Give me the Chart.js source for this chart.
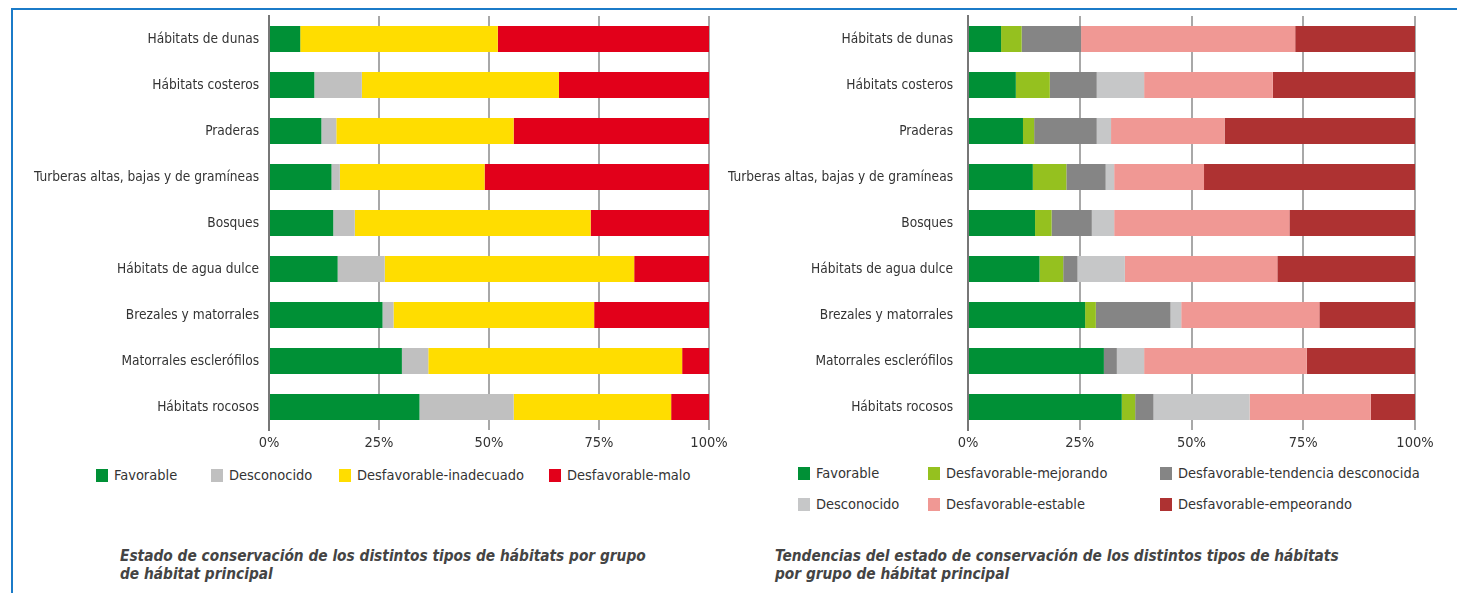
<!DOCTYPE html>
<html>
<head>
<meta charset="utf-8">
<script src="https://cdn.jsdelivr.net/npm/chart.js@4/dist/chart.umd.min.js"></script>
<style>
  html, body { margin:0; padding:0; background:#fff; }
  body { width:1457px; height:593px; position:relative; overflow:hidden;
         font-family:'DejaVu Sans Condensed','DejaVu Sans',sans-serif; color:#333; }
  #frame { position:absolute; left:11px; top:8px; width:1460px; height:600px;
           border-left:2px solid #1b7bc8; border-top:2px solid #1b7bc8; }
  .cv { position:absolute; }
  .leg { position:absolute; font-size:14.5px; white-space:nowrap; line-height:16px; }
  .leg i { display:inline-block; width:12px; height:13px; vertical-align:-2px; margin-right:6px; }
  .cap { position:absolute; font-style:italic; font-weight:bold; font-size:15.3px; line-height:18px; color:#444; white-space:nowrap; }
</style>
</head>
<body>
<div id="frame"></div>
<div class="cv" style="left:12px;top:11px;width:717px;height:449px;"><canvas id="c1"></canvas></div>
<div class="cv" style="left:715px;top:11px;width:720px;height:449px;"><canvas id="c2"></canvas></div>
<div id="legs"></div>
<div class="cap" style="left:120px;top:547px;">Estado de conservación de los distintos tipos de hábitats por grupo<br>de hábitat principal</div>
<div class="cap" style="left:775px;top:547px;">Tendencias del estado de conservación de los distintos tipos de hábitats<br>por grupo de hábitat principal</div>
<script>
const categories = ['Hábitats de dunas','Hábitats costeros','Praderas','Turberas altas, bajas y de gramíneas','Bosques','Hábitats de agua dulce','Brezales y matorrales','Matorrales esclerófilos','Hábitats rocosos'];
const tickLabels = ['0%','25%','50%','75%','100%'];

// Left chart: estado de conservación
const favorable   = [7.1,10.3,11.9,14.2,14.6,15.6,25.8,30.2,34.2];
const desconocido = [0,10.8,3.4,1.9,4.9,10.7,2.5,6.0,21.4];
const inadecuado  = [44.9,44.8,40.3,32.9,53.6,56.7,45.6,57.7,35.8];
const malo        = [48.0,34.1,44.4,51.0,26.9,17.0,26.1,6.1,8.6];

// Right chart: tendencias
const favorableT  = [7.4,10.7,12.3,14.5,15.0,16.0,26.2,30.4,34.4];
const mejorando   = [4.6,7.6,2.5,7.5,3.7,5.3,2.4,0,3.0];
const tendDesc    = [13.3,10.5,14.0,8.8,9.0,3.2,16.7,2.9,4.1];
const desconT     = [0,10.6,3.2,1.9,5.0,10.6,2.4,6.1,21.5];
const estable     = [47.9,28.8,25.4,20.1,39.2,34.1,30.9,36.4,27.1];
const empeorando  = [26.8,31.8,42.6,47.2,28.1,30.8,21.4,24.2,9.9];

const FONT = "'DejaVu Sans Condensed','DejaVu Sans',sans-serif";

function makeChart(id, datasets, yWidth, labelPad) {
  return new Chart(document.getElementById(id), {
    type: 'bar',
    data: { labels: categories, datasets: datasets.map(d => ({
      label: d[0], data: d[1], backgroundColor: d[2], borderWidth: 0,
      barPercentage: 26/46, categoryPercentage: 1
    })) },
    options: {
      indexAxis: 'y', responsive: true, maintainAspectRatio: false, animation: false,
      layout: { padding: { top: 5, right: 20, bottom: 0, left: 0 } },
      plugins: { legend: { display: false }, tooltip: { enabled: false } },
      scales: {
        x: {
          stacked: true, min: 0, max: 100,
          afterFit: s => { s.height = 30; s.paddingLeft = 0; s.paddingRight = 0; },
          afterBuildTicks: s => { s.ticks = [0,25,50,75,100].map(v => ({ value: v })); },
          ticks: { padding: 5, color: '#333', font: { family: FONT, size: 14.5 },
                   callback: (v, i) => tickLabels[i] },
          grid: { color: '#a8a8a8', lineWidth: 2, drawTicks: false },
          border: { display: false }
        },
        y: {
          stacked: true,
          afterFit: s => { s.width = yWidth; s.paddingTop = 0; s.paddingBottom = 0; },
          ticks: { padding: labelPad, color: '#333', font: { family: FONT, size: 13.6 } },
          grid: { display: false, drawTicks: false },
          border: { display: true, color: '#777', width: 2 }
        }
      }
    }
  });
}

const leftSets = [
  ['Favorable', favorable, '#009036'],
  ['Desconocido', desconocido, '#c0c0c0'],
  ['Desfavorable-inadecuado', inadecuado, '#ffdd00'],
  ['Desfavorable-malo', malo, '#e2001a']
];
const rightSets = [
  ['Favorable', favorableT, '#009036'],
  ['Desfavorable-mejorando', mejorando, '#95c11f'],
  ['Desfavorable-tendencia desconocida', tendDesc, '#858585'],
  ['Desconocido', desconT, '#c6c7c8'],
  ['Desfavorable-estable', estable, '#f09894'],
  ['Desfavorable-empeorando', empeorando, '#ae3232']
];
makeChart('c1', leftSets, 257, 10);
makeChart('c2', rightSets, 253, 15);

// HTML legends
const legs = document.getElementById('legs');
function addLeg(set, x, y) {
  const d = document.createElement('div');
  d.className = 'leg';
  d.style.left = x + 'px'; d.style.top = y + 'px';
  d.innerHTML = '<i style="background:' + set[2] + '"></i>' + set[0];
  legs.appendChild(d);
}
const leftLegX = [96, 211, 339, 549];
leftSets.forEach((s, i) => addLeg(s, leftLegX[i], 467));
const rightLegX = [798, 928, 1160];
rightSets.forEach((s, i) => addLeg(s, rightLegX[i % 3], i < 3 ? 465 : 496));
</script>
</body>
</html>
